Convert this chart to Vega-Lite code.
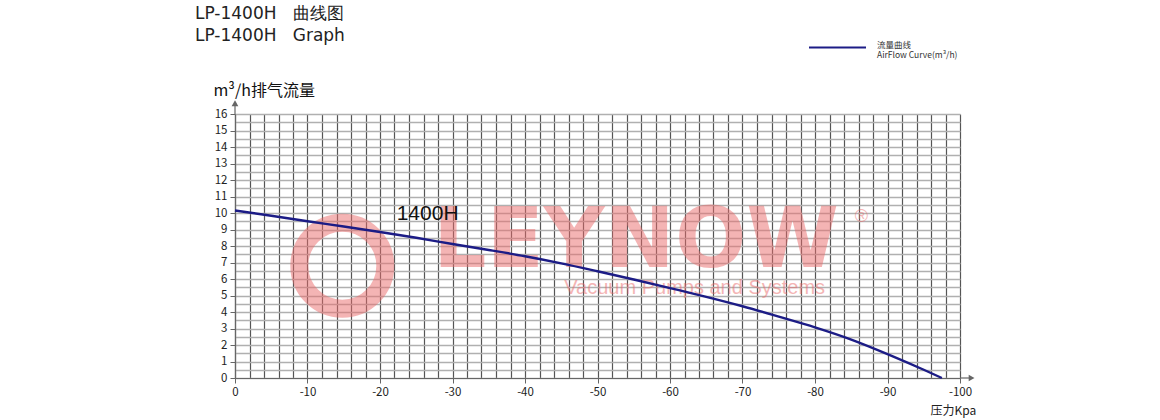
{
  "$schema": "https://vega.github.io/schema/vega-lite/v6.json",
  "width": 725,
  "height": 264,
  "autosize": {"type": "none"},
  "padding": {"left": 235, "top": 114, "right": 200, "bottom": 42},
  "background": "white",
  "config": {"view": {"stroke": null}, "font": "Noto Sans CJK SC"},
  "title": {
    "text": "LP-1400H\u00a0\u00a0\u00a0曲线图",
    "subtitle": "LP-1400H\u00a0\u00a0\u00a0Graph",
    "anchor": "start",
    "frame": "group",
    "dx": -40,
    "dy": 37,
    "offset": 10,
    "font": "DejaVu Sans",
    "fontSize": 17,
    "fontWeight": "normal",
    "color": "#222",
    "subtitleFont": "DejaVu Sans",
    "subtitleFontSize": 17,
    "subtitleColor": "#222",
    "subtitlePadding": 5
  },
  "datasets": {
    "curve": [
      {"kPa": 0, "flow": 10.15},
      {"kPa": -5, "flow": 9.83},
      {"kPa": -10, "flow": 9.5},
      {"kPa": -15, "flow": 9.18},
      {"kPa": -20, "flow": 8.85},
      {"kPa": -25, "flow": 8.5},
      {"kPa": -30, "flow": 8.12},
      {"kPa": -35, "flow": 7.76},
      {"kPa": -40, "flow": 7.38},
      {"kPa": -45, "flow": 6.95},
      {"kPa": -50, "flow": 6.47},
      {"kPa": -55, "flow": 5.97},
      {"kPa": -60, "flow": 5.45},
      {"kPa": -65, "flow": 4.92},
      {"kPa": -70, "flow": 4.35},
      {"kPa": -75, "flow": 3.72},
      {"kPa": -80, "flow": 3.07},
      {"kPa": -85, "flow": 2.33},
      {"kPa": -90, "flow": 1.45},
      {"kPa": -95, "flow": 0.5},
      {"kPa": -97.5, "flow": 0}
    ],
    "logo": [{"kPa": -14.8, "flow": 6.8}],
    "brand": [{"kPa": -55.3, "flow": 8.24, "t": "LEYNOW"}],
    "slogan": [{"kPa": -63.4, "flow": 5.45, "t": "Vacuum Pumps and Systems"}],
    "reg": [{"kPa": -86.4, "flow": 9.76, "t": "®"}],
    "label": [{"kPa": -22.3, "flow": 9.94, "t": "1400H"}],
    "axisext": [
      {"kPa": -100, "kPa2": -101.5, "flow": 0, "flow2": 0},
      {"kPa": 0, "kPa2": 0, "flow": 16, "flow2": 16.6}
    ],
    "arrows": [
      {"kPa": -101.6, "flow": 0, "shape": "triangle-right"},
      {"kPa": 0, "flow": 16.65, "shape": "triangle-up"}
    ]
  },
  "encoding": {
    "x": {
      "field": "kPa",
      "type": "quantitative",
      "scale": {"domain": [0, -100], "nice": false, "zero": false},
      "axis": {
        "values": [0,-2,-4,-6,-8,-10,-12,-14,-16,-18,-20,-22,-24,-26,-28,-30,-32,-34,-36,-38,-40,-42,-44,-46,-48,-50,-52,-54,-56,-58,-60,-62,-64,-66,-68,-70,-72,-74,-76,-78,-80,-82,-84,-86,-88,-90,-92,-94,-96,-98,-100],
        "labelExpr": "datum.value % 10 === 0 ? toString(datum.value) : ''",
        "tickOpacity": {"condition": {"test": "datum.value % 10 === 0", "value": 1}, "value": 0},
        "tickSize": 5,
        "tickColor": "#666",
        "domainColor": "#666",
        "domainWidth": 1.2,
        "gridColor": "#555",
        "gridWidth": 1.2,
        "labelFontSize": 11.5,
        "labelColor": "#222",
        "labelPadding": 3,
        "labelFlush": false,
        "labelOverlap": false,
        "title": "压力Kpa",
        "titleX": 695,
        "titleY": 32,
        "titleAlign": "left",
        "titleBaseline": "middle",
        "titleFontSize": 12,
        "titleFontWeight": "normal",
        "titleColor": "#222"
      }
    },
    "y": {
      "field": "flow",
      "type": "quantitative",
      "scale": {"domain": [0, 16], "nice": false},
      "axis": {
        "values": [0,0.5,1,1.5,2,2.5,3,3.5,4,4.5,5,5.5,6,6.5,7,7.5,8,8.5,9,9.5,10,10.5,11,11.5,12,12.5,13,13.5,14,14.5,15,15.5,16],
        "labelExpr": "datum.value % 1 === 0 ? toString(datum.value) : ''",
        "tickOpacity": {"condition": {"test": "datum.value % 1 === 0", "value": 1}, "value": 0},
        "tickSize": 5,
        "tickColor": "#666",
        "domainColor": "#666",
        "domainWidth": 1.2,
        "gridColor": "#b0b0b0",
        "gridWidth": 1.5,
        "labelFontSize": 11.5,
        "labelColor": "#222",
        "labelPadding": 3,
        "labelOverlap": false,
        "labelFlush": false,
        "title": "m³/h排气流量",
        "titleAngle": 0,
        "titleX": -22,
        "titleY": -24,
        "titleAlign": "left",
        "titleBaseline": "middle",
        "titleFontSize": 16,
        "titleFontWeight": "normal",
        "titleColor": "#111"
      }
    }
  },
  "layer": [
    {
      "data": {"name": "logo"},
      "mark": {"type": "point", "shape": "circle", "filled": false, "size": 7400, "strokeWidth": 18, "color": "#ea6b6b", "opacity": 0.5}
    },
    {
      "data": {"name": "brand"},
      "mark": {"type": "text", "font": "DejaVu Sans", "fontWeight": "bold", "fontSize": 84, "color": "#ea6b6b", "opacity": 0.5, "align": "center", "baseline": "middle"},
      "encoding": {"text": {"field": "t"}}
    },
    {
      "data": {"name": "slogan"},
      "mark": {"type": "text", "font": "Liberation Sans", "fontSize": 20, "color": "#ea6b6b", "opacity": 0.5, "align": "center", "baseline": "middle"},
      "encoding": {"text": {"field": "t"}}
    },
    {
      "data": {"name": "reg"},
      "mark": {"type": "text", "font": "Liberation Sans", "fontSize": 18, "color": "#ea6b6b", "opacity": 0.5, "align": "center", "baseline": "middle"},
      "encoding": {"text": {"field": "t"}}
    },
    {
      "data": {"name": "axisext"},
      "mark": {"type": "rule", "color": "#666", "strokeWidth": 1.2},
      "encoding": {"x2": {"field": "kPa2"}, "y2": {"field": "flow2"}}
    },
    {
      "data": {"name": "arrows"},
      "mark": {"type": "point", "filled": true, "size": 45, "color": "#666", "opacity": 1},
      "encoding": {"shape": {"field": "shape", "type": "nominal", "scale": null, "legend": null}}
    },
    {
      "data": {"name": "curve"},
      "mark": {"type": "line", "strokeWidth": 2.4, "interpolate": "monotone"},
      "encoding": {
        "color": {
          "datum": "AirFlow",
          "scale": {"range": ["#1c1c86"]},
          "legend": {
            "orient": "none",
            "legendX": 573,
            "legendY": -96,
            "title": null,
            "symbolType": "stroke",
            "symbolSize": 3249,
            "symbolStrokeWidth": 2,
            "labelExpr": "['流量曲线', 'AirFlow Curve(m³/h)']",
            "labelFontSize": 8.5,
            "labelColor": "#333",
            "labelOffset": 10,
            "labelBaseline": "alphabetic",
            "labelLimit": 0
          }
        }
      }
    },
    {
      "data": {"name": "label"},
      "mark": {"type": "text", "font": "Liberation Sans", "fontSize": 21, "color": "#111", "align": "left", "baseline": "middle"},
      "encoding": {"text": {"field": "t"}}
    }
  ]
}
